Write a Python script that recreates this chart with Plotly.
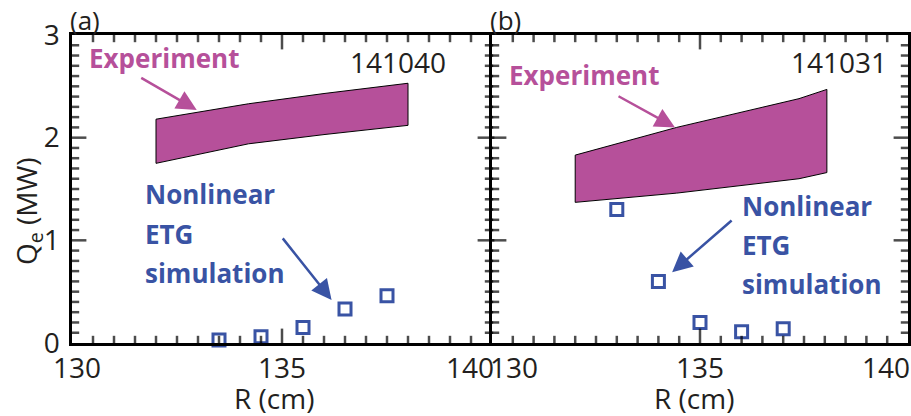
import plotly.graph_objects as go

# ---------------- data ----------------
# Panel (a): shot 141040
exp_a_x = [132.0, 134.2, 136.0, 138.0]
exp_a_upper = [2.18, 2.33, 2.43, 2.53]
exp_a_lower = [1.75, 1.94, 2.03, 2.12]
sim_a_x = [133.5, 134.5, 135.5, 136.5, 137.5]
sim_a_q = [0.03, 0.06, 0.15, 0.33, 0.46]

# Panel (b): shot 141031
exp_b_x = [132.0, 134.44, 137.38, 138.05]
exp_b_upper = [1.83, 2.10, 2.38, 2.47]
exp_b_lower = [1.37, 1.46, 1.60, 1.66]
sim_b_x = [133.0, 134.0, 135.0, 136.0, 137.0]
sim_b_q = [1.30, 0.60, 0.20, 0.11, 0.14]

x_ticks = [130, 135, 140]
y_ticks = [0, 1, 2, 3]
shots = ["141040", "141031"]
panel_tags = ["(a)", "(b)"]

# ---------------- style ----------------
W, H = 911, 416
ML, MR, MT, MB = 72, 3, 35, 73
PW = W - ML - MR
PH = H - MT - MB
SPLIT = 420 / PW
MAG = "#B6509A"
BLUE = "#3953A4"
INK = "#231F20"
FONT = "Open Sans"
X_MINOR, Y_MINOR = 0.5, 0.1
MAJ_LEN, MIN_LEN = 12, 6


def px(x):
    return (x - ML) / PW


def py(y):
    return (H - MB - y) / PH


fig = go.Figure()

for i, (ex, up, lo, sx, sq) in enumerate([
    (exp_a_x, exp_a_upper, exp_a_lower, sim_a_x, sim_a_q),
    (exp_b_x, exp_b_upper, exp_b_lower, sim_b_x, sim_b_q),
]):
    xa = "x" if i == 0 else "x2"
    ya = "y" if i == 0 else "y2"
    fig.add_trace(go.Scatter(
        x=ex + ex[::-1] + [ex[0]], y=up + lo[::-1] + [up[0]],
        fill="toself", fillcolor=MAG, mode="lines",
        line=dict(color="black", width=1), xaxis=xa, yaxis=ya,
        showlegend=False, hoverinfo="skip"))
    fig.add_trace(go.Scatter(
        x=sx, y=sq, mode="markers", xaxis=xa, yaxis=ya, cliponaxis=False,
        marker=dict(symbol="square-open", size=12, color=BLUE,
                    line=dict(width=3, color=BLUE)),
        showlegend=False))

# tick marks drawn inside each panel on all four sides, as line markers
x_lo, x_hi = x_ticks[0], x_ticks[-1]
y_lo, y_hi = y_ticks[0], y_ticks[-1]
nx = int(round((x_hi - x_lo) / X_MINOR))
ny = int(round((y_hi - y_lo) / Y_MINOR))
for xr, yr, pw in [("x", "y", 420.0), ("x2", "y2", PW - 420.0)]:
    ux = (x_hi - x_lo) / pw      # data units per pixel (x)
    uy = (y_hi - y_lo) / PH      # data units per pixel (y)
    vx, vy, vs = [], [], []
    hx, hy, hs = [], [], []
    for k in range(1, nx):
        v = x_lo + k * X_MINOR
        L = MAJ_LEN if any(abs(v - t) < 1e-9 for t in x_ticks) else MIN_LEN
        vx += [v, v]
        vy += [y_lo + 0.5 * L * uy, y_hi - 0.5 * L * uy]
        vs += [L, L]
    for k in range(1, ny):
        v = y_lo + k * Y_MINOR
        L = MAJ_LEN if any(abs(v - t) < 1e-9 for t in y_ticks) else MIN_LEN
        hx += [x_lo + 0.5 * L * ux, x_hi - 0.5 * L * ux]
        hy += [v, v]
        hs += [L, L]
    fig.add_trace(go.Scatter(
        x=vx, y=vy, mode="markers", xaxis=xr, yaxis=yr, cliponaxis=False,
        marker=dict(symbol="line-ns-open", size=vs, color="#000000",
                    line=dict(width=2.5, color="#000000")),
        showlegend=False, hoverinfo="skip"))
    fig.add_trace(go.Scatter(
        x=hx, y=hy, mode="markers", xaxis=xr, yaxis=yr, cliponaxis=False,
        marker=dict(symbol="line-ew-open", size=hs, color="#000000",
                    line=dict(width=2.5, color="#000000")),
        showlegend=False, hoverinfo="skip"))

axis_common = dict(
    range=[x_lo, x_hi], showline=True, linecolor="black",
    linewidth=2.5, mirror=True, ticks="", showticklabels=False,
    showgrid=False, zeroline=False,
)
yaxis_common = dict(
    range=[y_lo, y_hi], showline=True, linecolor="black",
    linewidth=2.5, ticks="", tickmode="array", tickvals=y_ticks,
    showgrid=False, zeroline=False,
)

fig.update_layout(
    template="none",
    width=W, height=H,
    margin=dict(l=ML, r=MR, t=MT, b=MB, pad=0),
    paper_bgcolor="white", plot_bgcolor="rgba(0,0,0,0)",
    font=dict(family=FONT, size=28, color=INK),
    xaxis=dict(domain=[0, SPLIT], anchor="y", **axis_common),
    xaxis2=dict(domain=[SPLIT, 1], anchor="y2", **axis_common),
    yaxis=dict(domain=[0, 1], anchor="x", showticklabels=True, mirror=False,
               ticklabelstandoff=4,
               tickfont=dict(size=28, color=INK), **yaxis_common),
    yaxis2=dict(domain=[0, 1], anchor="x2", showticklabels=False,
                mirror=True, **yaxis_common),
)

ann = []
# x tick labels
for i, (x0, x1) in enumerate([(72, 492), (492, 908)]):
    scale = (x1 - x0) / (x_ticks[-1] - x_ticks[0])
    for j, t in enumerate(x_ticks):
        xp = x0 + (t - x_ticks[0]) * scale
        anchor = "center"
        shift = 0
        if i == 0 and j == 0:
            shift = 5
        if j == len(x_ticks) - 1:
            anchor = "right"
            shift = 4
        if i == 1 and j == 0:
            anchor = "left"
            shift = -4
        ann.append(dict(x=px(xp), y=py(346), xref="paper", yref="paper",
                        text=str(t), showarrow=False, xanchor=anchor,
                        yanchor="top", xshift=shift,
                        font=dict(size=28, color=INK)))
    # axis title
    ann.append(dict(x=px([274, 694][i]), y=py(398), xref="paper",
                    yref="paper", text="R (cm)", showarrow=False,
                    xanchor="center", yanchor="middle",
                    font=dict(size=28, color=INK)))
    # panel tag
    ann.append(dict(x=px([68, 488][i]), y=py(0), xref="paper", yref="paper",
                    text=panel_tags[i], showarrow=False, xanchor="left",
                    yanchor="top", font=dict(size=26, color=INK)))
    # shot number
    ann.append(dict(x=px([398, 839][i]), y=py(62), xref="paper", yref="paper",
                    text=shots[i], showarrow=False, xanchor="center",
                    yanchor="middle", font=dict(size=28, color=INK)))
    # Experiment label
    ann.append(dict(x=px([164, 584][i]), y=py([58, 75][i]), xref="paper",
                    yref="paper", text="<b>Experiment</b>", showarrow=False,
                    xanchor="center", yanchor="middle",
                    font=dict(size=26, color=MAG)))
    # Simulation label
    xl = [143, 740][i]
    ys = [(194, 234, 273), (206, 245, 284)][i]
    for line, yy in zip(["Nonlinear", "ETG", "simulation"], ys):
        ann.append(dict(x=px(xl), y=py(yy), xref="paper", yref="paper",
                        text="<b>%s</b>" % line, showarrow=False,
                        xanchor="left", yanchor="middle",
                        font=dict(size=26, color=BLUE)))

# y-axis title
ann.append(dict(x=px(28), y=py(211), xref="paper", yref="paper",
                text="Q<sub>e</sub> (MW)", showarrow=False, textangle=-90,
                xanchor="center", yanchor="middle",
                font=dict(size=28, color=INK)))

# arrows
arrows = [
    ("x", "y", 132.97, 2.27, -57, -33, MAG),
    ("x", "y", 136.18, 0.42, -50, -63, BLUE),
    ("x2", "y2", 134.40, 2.10, -58, -32, MAG),
    ("x2", "y2", 134.33, 0.69, 61, -53, BLUE),
]
for xr, yr, hx_, hy_, dx, dy, c in arrows:
    ann.append(dict(x=hx_, y=hy_, xref=xr, yref=yr, ax=dx, ay=dy, text="",
                    showarrow=True, arrowhead=2, arrowsize=1.6,
                    arrowwidth=2.5, arrowcolor=c, standoff=0))

fig.update_layout(annotations=ann)
fig.write_html("out.html")
